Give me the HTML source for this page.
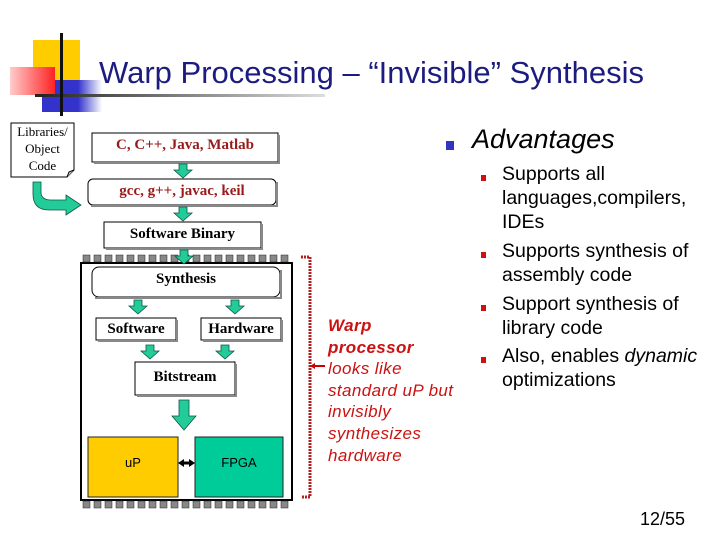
<!DOCTYPE html>
<html><head><meta charset="utf-8"><style>
body{margin:0;width:720px;height:540px;background:#fff;overflow:hidden;position:relative;font-family:"Liberation Sans",sans-serif}
.t{position:absolute;white-space:nowrap}
.s{font:bold 15px 'Liberation Serif',serif}
</style></head><body>
<svg width="720" height="540" style="position:absolute;left:0;top:0">
<defs>
<linearGradient id="rg" x1="0" x2="1"><stop offset="0" stop-color="#ffcccc"/><stop offset="1" stop-color="#ff2222"/></linearGradient>
<linearGradient id="bg" x1="0" x2="1"><stop offset="0" stop-color="#3333cc"/><stop offset="0.6" stop-color="#3333cc"/><stop offset="1" stop-color="#fff"/></linearGradient>
<linearGradient id="lg" x1="0" x2="1"><stop offset="0" stop-color="#222"/><stop offset="1" stop-color="#ddd"/></linearGradient>
</defs>
<rect x="33" y="40" width="47" height="45" fill="#ffcc00"/>
<rect x="42" y="80" width="60" height="32" fill="url(#bg)"/>
<rect x="10" y="67" width="45" height="28" fill="url(#rg)"/>
<rect x="35" y="94" width="290" height="3" fill="url(#lg)"/>
<rect x="60" y="33" width="3" height="83" fill="#111"/>
<path d="M11 123H74V170L67 177H11Z" fill="#fff" stroke="#000"/>
<path d="M67 177L69 172L74 170" fill="#ccc" stroke="#000"/>
<g stroke="#000" fill="#fff">
<rect x="92" y="133" width="186" height="29"/>
<rect x="88" y="179" width="188" height="26" rx="5"/>
<rect x="104" y="222" width="157" height="26"/>
<rect x="81" y="263" width="211" height="237" stroke-width="2"/>
<rect x="92" y="267" width="188" height="30" rx="7"/>
<rect x="96" y="318" width="80" height="22"/>
<rect x="201" y="318" width="80" height="22"/>
<rect x="135" y="362" width="100" height="33"/>
</g>
<g stroke="#888" stroke-width="2" fill="none">
<path d="M279 135V163H94"/><path d="M277 182V206H91"/><path d="M262 224V249H106"/><path d="M281 270V298H95"/>
<path d="M177 320V341H98"/><path d="M282 320V341H203"/><path d="M236 364V396H137"/>
</g>
<g fill="#888" stroke="#222" stroke-width="0.5">
<rect x="83" y="255" width="7" height="7"/><rect x="94" y="255" width="7" height="7"/><rect x="105" y="255" width="7" height="7"/><rect x="116" y="255" width="7" height="7"/><rect x="127" y="255" width="7" height="7"/><rect x="138" y="255" width="7" height="7"/><rect x="149" y="255" width="7" height="7"/><rect x="160" y="255" width="7" height="7"/><rect x="171" y="255" width="7" height="7"/><rect x="182" y="255" width="7" height="7"/><rect x="193" y="255" width="7" height="7"/><rect x="204" y="255" width="7" height="7"/><rect x="215" y="255" width="7" height="7"/><rect x="226" y="255" width="7" height="7"/><rect x="237" y="255" width="7" height="7"/><rect x="248" y="255" width="7" height="7"/><rect x="259" y="255" width="7" height="7"/><rect x="270" y="255" width="7" height="7"/><rect x="281" y="255" width="7" height="7"/>
<rect x="83" y="501" width="7" height="7"/><rect x="94" y="501" width="7" height="7"/><rect x="105" y="501" width="7" height="7"/><rect x="116" y="501" width="7" height="7"/><rect x="127" y="501" width="7" height="7"/><rect x="138" y="501" width="7" height="7"/><rect x="149" y="501" width="7" height="7"/><rect x="160" y="501" width="7" height="7"/><rect x="171" y="501" width="7" height="7"/><rect x="182" y="501" width="7" height="7"/><rect x="193" y="501" width="7" height="7"/><rect x="204" y="501" width="7" height="7"/><rect x="215" y="501" width="7" height="7"/><rect x="226" y="501" width="7" height="7"/><rect x="237" y="501" width="7" height="7"/><rect x="248" y="501" width="7" height="7"/><rect x="259" y="501" width="7" height="7"/><rect x="270" y="501" width="7" height="7"/><rect x="281" y="501" width="7" height="7"/>
</g>
<g fill="#22cc99" stroke="#115544" stroke-width="0.8">
<path d="M179 164h8v6h5l-9 8l-9-8h5z"/>
<path d="M179 207h8v6h5l-9 8l-9-8h5z"/>
<path d="M180 250h8v6h5l-9 8l-9-8h5z"/>
<path d="M134 300h8v6h5l-9 8l-9-8h5z"/>
<path d="M231 300h8v6h5l-9 8l-9-8h5z"/>
<path d="M146 345h8v6h5l-9 8l-9-8h5z"/>
<path d="M221 345h8v6h5l-9 8l-9-8h5z"/>
<path d="M179 400h10v16h7l-12 14l-12-14h7z"/>
<path d="M41 182v10q0 8 10 8h15v-5l15 10l-15 10v-5h-17q-16 0-16-16v-12z"/>
</g>
<rect x="88" y="437" width="90" height="60" fill="#ffcc00" stroke="#222"/>
<rect x="195" y="437" width="88" height="60" fill="#00cc99" stroke="#222"/>
<path d="M182 463H191" stroke="#000" stroke-width="3"/>
<path d="M178 463l6-4v8zM195 463l-6-4v8z" fill="#000"/>
<path d="M301 257H310V497H301" fill="none" stroke="#b02020" stroke-width="3" stroke-dasharray="2,1"/>
<path d="M325 366H312" stroke="#cc0000" stroke-width="2"/>
<path d="M310 366l5-3v6z" fill="#cc0000"/>
<rect x="446" y="141" width="8" height="9" fill="#3333bb"/>
<g fill="#cc1111"><rect x="481" y="175" width="5" height="6"/><rect x="481" y="252" width="5" height="6"/><rect x="481" y="305" width="5" height="6"/><rect x="481" y="357" width="5" height="6"/></g>
</svg>
<div class="t" style="left:99px;top:55px;font-size:31px;color:#1c1c80">Warp Processing – “Invisible” Synthesis</div>
<div class="t" style="left:11px;top:123px;width:63px;text-align:center;font:13px/17px 'Liberation Serif',serif">Libraries/<br>Object<br>Code</div>
<div class="t s" style="left:92px;top:137px;width:186px;text-align:center;color:#9a1a1a">C, C++, Java, Matlab</div>
<div class="t s" style="left:88px;top:183px;width:188px;text-align:center;color:#9a1a1a">gcc, g++, javac, keil</div>
<div class="t s" style="left:104px;top:226px;width:157px;text-align:center">Software Binary</div>
<div class="t s" style="left:92px;top:271px;width:188px;text-align:center">Synthesis</div>
<div class="t s" style="left:96px;top:321px;width:80px;text-align:center">Software</div>
<div class="t s" style="left:201px;top:321px;width:80px;text-align:center">Hardware</div>
<div class="t s" style="left:135px;top:369px;width:100px;text-align:center">Bitstream</div>
<div class="t" style="left:88px;top:455px;width:90px;text-align:center;font-size:13px">uP</div>
<div class="t" style="left:195px;top:455px;width:88px;text-align:center;font-size:13px">FPGA</div>
<div class="t" style="left:328px;top:315px;font:italic 17px/21.6px 'Liberation Sans',sans-serif;color:#cc1111;letter-spacing:0.4px"><b>Warp<br>processor</b><br>looks like<br>standard uP but<br>invisibly<br>synthesizes<br>hardware</div>
<div class="t" style="left:472px;top:124px;font:italic 27px 'Liberation Sans',sans-serif">Advantages</div>
<div class="t" style="left:502px;top:162px;font:19.5px/24px 'Liberation Sans',sans-serif">Supports all<br>languages,compilers,<br>IDEs</div>
<div class="t" style="left:502px;top:239px;font:19.5px/24px 'Liberation Sans',sans-serif">Supports synthesis of<br>assembly code</div>
<div class="t" style="left:502px;top:292px;font:19.5px/24px 'Liberation Sans',sans-serif">Support synthesis of<br>library code</div>
<div class="t" style="left:502px;top:344px;font:19.5px/24px 'Liberation Sans',sans-serif">Also, enables <i>dynamic</i><br>optimizations</div>
<div class="t" style="left:640px;top:509px;font-size:18px">12/55</div>
</body></html>
